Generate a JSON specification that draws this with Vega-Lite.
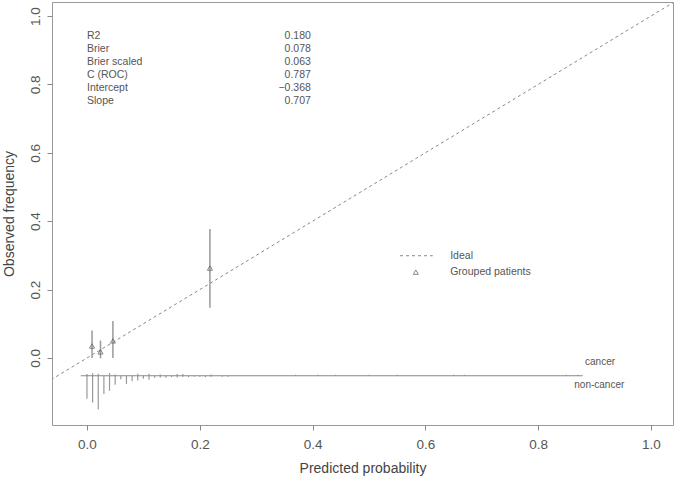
{
  "$schema": "https://vega.github.io/schema/vega-lite/v6.json",
  "width": 621,
  "height": 423,
  "autosize": "none",
  "padding": {"left": 52, "top": 2, "right": 2, "bottom": 53},
  "background": "white",
  "config": {
    "view": {"stroke": "#999", "strokeWidth": 1},
    "axis": {
      "domain": false,
      "grid": false,
      "ticks": true,
      "tickColor": "#888",
      "tickSize": 5,
      "labelFont": "Liberation Sans",
      "labelFontSize": 13.5,
      "labelColor": "#555",
      "titleFont": "Liberation Sans",
      "titleFontSize": 14,
      "titleFontWeight": "normal",
      "titleColor": "#444"
    },
    "text": {"font": "Liberation Sans", "color": "#555"}
  },
  "datasets": {
    "ideal": [{"x": -0.1, "y": -0.1}, {"x": 1.1, "y": 1.1}],
    "groups": [
      {"x": 0.009, "y": 0.035, "lo": 0.0, "hi": 0.080},
      {"x": 0.024, "y": 0.018, "lo": -0.001, "hi": 0.051},
      {"x": 0.046, "y": 0.050, "lo": 0.0, "hi": 0.108},
      {"x": 0.218, "y": 0.263, "lo": 0.147, "hi": 0.377}
    ],
    "base": [{"x": -0.011, "x2": 0.879, "y": -0.052}],
    "spikes": [
      {"p": 0.00, "end": -0.119},
      {"p": 0.01, "end": -0.130},
      {"p": 0.02, "end": -0.151},
      {"p": 0.03, "end": -0.105},
      {"p": 0.04, "end": -0.096},
      {"p": 0.05, "end": -0.078},
      {"p": 0.06, "end": -0.062},
      {"p": 0.07, "end": -0.076},
      {"p": 0.08, "end": -0.068},
      {"p": 0.09, "end": -0.066},
      {"p": 0.10, "end": -0.061},
      {"p": 0.11, "end": -0.064},
      {"p": 0.12, "end": -0.058},
      {"p": 0.13, "end": -0.057},
      {"p": 0.14, "end": -0.058},
      {"p": 0.15, "end": -0.056},
      {"p": 0.16, "end": -0.057},
      {"p": 0.17, "end": -0.055},
      {"p": 0.18, "end": -0.056},
      {"p": 0.19, "end": -0.055},
      {"p": 0.20, "end": -0.055},
      {"p": 0.21, "end": -0.056},
      {"p": 0.22, "end": -0.055},
      {"p": 0.24, "end": -0.055},
      {"p": 0.25, "end": -0.055},
      {"p": 0.00, "end": -0.047},
      {"p": 0.01, "end": -0.045},
      {"p": 0.02, "end": -0.046},
      {"p": 0.04, "end": -0.044},
      {"p": 0.05, "end": -0.048},
      {"p": 0.09, "end": -0.046},
      {"p": 0.11, "end": -0.046},
      {"p": 0.13, "end": -0.048},
      {"p": 0.16, "end": -0.047},
      {"p": 0.17, "end": -0.047},
      {"p": 0.22, "end": -0.048},
      {"p": 0.37, "end": -0.049},
      {"p": 0.41, "end": -0.049},
      {"p": 0.44, "end": -0.049},
      {"p": 0.50, "end": -0.049},
      {"p": 0.55, "end": -0.049},
      {"p": 0.65, "end": -0.049},
      {"p": 0.67, "end": -0.049},
      {"p": 0.85, "end": -0.049},
      {"p": 0.87, "end": -0.049}
    ]
  },
  "layer": [
    {
      "data": {"name": "ideal"},
      "mark": {"type": "line", "clip": true, "strokeDash": [3, 3], "color": "#888", "strokeWidth": 1},
      "encoding": {
        "x": {"field": "x", "type": "quantitative", "title": "Predicted probability",
              "scale": {"domain": [-0.062, 1.039], "nice": false, "zero": false},
              "axis": {"values": [0, 0.2, 0.4, 0.6, 0.8, 1.0], "format": ".1f", "labelPadding": 7,
                       "titleX": 310.5, "titleY": 43, "titleBaseline": "middle", "titleAnchor": "middle"}},
        "y": {"field": "y", "type": "quantitative", "title": "Observed frequency",
              "scale": {"domain": [-0.196, 1.041], "nice": false, "zero": false},
              "axis": {"values": [0, 0.2, 0.4, 0.6, 0.8, 1.0], "format": ".1f", "labelAngle": -90,
                       "labelAlign": "center", "labelBaseline": "bottom", "labelPadding": 5,
                       "titleX": -43, "titleY": 211.5, "titleAngle": -90, "titleBaseline": "middle", "titleAlign": "center"}}
      }
    },
    {
      "data": {"name": "groups"},
      "mark": {"type": "rule", "color": "#999", "strokeWidth": 1.5},
      "encoding": {
        "x": {"field": "x", "type": "quantitative"},
        "y": {"field": "lo", "type": "quantitative"},
        "y2": {"field": "hi"}
      }
    },
    {
      "data": {"name": "groups"},
      "mark": {"type": "point", "shape": "triangle-up", "filled": false, "color": "#555", "size": 26, "strokeWidth": 1},
      "encoding": {
        "x": {"field": "x", "type": "quantitative"},
        "y": {"field": "y", "type": "quantitative"}
      }
    },
    {
      "data": {"name": "spikes"},
      "mark": {"type": "rule", "color": "#999", "strokeWidth": 1.2},
      "encoding": {
        "x": {"field": "p", "type": "quantitative"},
        "y": {"field": "end", "type": "quantitative"},
        "y2": {"datum": -0.052}
      }
    },
    {
      "data": {"name": "base"},
      "mark": {"type": "rule", "color": "#888", "strokeWidth": 1},
      "encoding": {
        "x": {"field": "x", "type": "quantitative"},
        "x2": {"field": "x2"},
        "y": {"field": "y", "type": "quantitative"}
      }
    },
    {
      "data": {"values": [{}]},
      "mark": {"type": "text", "align": "left", "baseline": "alphabetic", "fontSize": 10.5, "lineHeight": 12.9},
      "encoding": {
        "x": {"datum": 0.0, "type": "quantitative"},
        "y": {"datum": 0.932, "type": "quantitative"},
        "text": {"value": ["R2", "Brier", "Brier scaled", "C (ROC)", "Intercept", "Slope"]}
      }
    },
    {
      "data": {"values": [{}]},
      "mark": {"type": "text", "align": "right", "baseline": "alphabetic", "fontSize": 10.5, "lineHeight": 12.9},
      "encoding": {
        "x": {"datum": 0.397, "type": "quantitative"},
        "y": {"datum": 0.932, "type": "quantitative"},
        "text": {"value": ["0.180", "0.078", "0.063", "0.787", "−0.368", "0.707"]}
      }
    },
    {
      "data": {"values": [{}]},
      "mark": {"type": "rule", "strokeDash": [3, 3], "color": "#888", "strokeWidth": 1},
      "encoding": {
        "x": {"datum": 0.555, "type": "quantitative"},
        "x2": {"datum": 0.613},
        "y": {"datum": 0.299, "type": "quantitative"}
      }
    },
    {
      "data": {"values": [{}]},
      "mark": {"type": "point", "shape": "triangle-up", "filled": false, "color": "#555", "size": 26, "strokeWidth": 1},
      "encoding": {
        "x": {"datum": 0.583, "type": "quantitative"},
        "y": {"datum": 0.251, "type": "quantitative"}
      }
    },
    {
      "data": {"values": [{}]},
      "mark": {"type": "text", "align": "left", "baseline": "middle", "fontSize": 10.5},
      "encoding": {
        "x": {"datum": 0.644, "type": "quantitative"},
        "y": {"datum": 0.299, "type": "quantitative"},
        "text": {"value": "Ideal"}
      }
    },
    {
      "data": {"values": [{}]},
      "mark": {"type": "text", "align": "left", "baseline": "middle", "fontSize": 10.5},
      "encoding": {
        "x": {"datum": 0.644, "type": "quantitative"},
        "y": {"datum": 0.251, "type": "quantitative"},
        "text": {"value": "Grouped patients"}
      }
    },
    {
      "data": {"values": [{}]},
      "mark": {"type": "text", "align": "left", "baseline": "middle", "fontSize": 10},
      "encoding": {
        "x": {"datum": 0.883, "type": "quantitative"},
        "y": {"datum": -0.011, "type": "quantitative"},
        "text": {"value": "cancer"}
      }
    },
    {
      "data": {"values": [{}]},
      "mark": {"type": "text", "align": "left", "baseline": "middle", "fontSize": 10},
      "encoding": {
        "x": {"datum": 0.864, "type": "quantitative"},
        "y": {"datum": -0.079, "type": "quantitative"},
        "text": {"value": "non-cancer"}
      }
    }
  ]
}
